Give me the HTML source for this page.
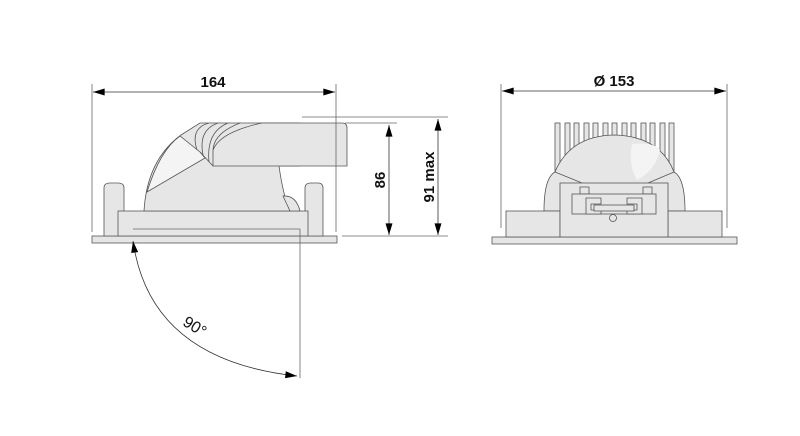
<!DOCTYPE html>
<html><head><meta charset="utf-8"><style>body{margin:0;background:#fff}svg{display:block}</style></head><body>
<svg width="800" height="436" viewBox="0 0 800 436" xmlns="http://www.w3.org/2000/svg" font-family="Liberation Sans, sans-serif">
<defs><marker id="a" viewBox="0 0 10 6" refX="10" refY="3" markerWidth="14" markerHeight="7" markerUnits="userSpaceOnUse" orient="auto-start-reverse"><path d="M0,0L10,3L0,6z" fill="#000"/></marker></defs>
<g fill="#e6e6e6" stroke="#555" stroke-width="0.8">
<!-- left view -->
<rect x="92" y="236" width="245" height="7"/>
<path d="M104,236V188Q104,183 110,183H118Q124,183 124,188V236z"/>
<path d="M305,236V188Q305,183 311,183H318Q323,183 323,188V236z"/>
<rect x="118" y="211" width="190" height="25"/>
<path d="M144,211Q147,160 181,135L200,123H300V166H279Q283,195 290,211z"/>
<path d="M283,196Q296,195 300,211H290z"/>
<path d="M147,192Q160,150 180,136L200,152L205,158z" fill="#f4f4f4"/>
<path d="M213,166V150Q220,132 262,123H342Q347,123 347,128V166z"/>
<path d="M209,123Q190,128 197,150M218,123Q198,130 203,155M228,123Q206,132 209,162M240,123Q214,133 213,150" fill="none"/>
<line x1="200" y1="152" x2="213" y2="166"/>
<!-- right view -->
<rect x="492" y="237" width="245" height="7"/>
<g>
<rect x="555" y="123" width="5" height="50"/><rect x="565" y="123" width="5" height="50"/><rect x="574" y="123" width="5" height="50"/><rect x="584" y="123" width="5" height="50"/><rect x="593" y="123" width="5" height="50"/><rect x="603" y="123" width="5" height="50"/><rect x="612" y="123" width="5" height="50"/><rect x="622" y="123" width="5" height="50"/><rect x="631" y="123" width="5" height="50"/><rect x="641" y="123" width="5" height="50"/><rect x="650" y="123" width="5" height="50"/><rect x="660" y="123" width="5" height="50"/><rect x="669" y="123" width="5" height="50"/>
</g>
<path d="M544,211Q544,178 555,172Q570,136 614,135Q660,136 674,172Q685,178 685,211z"/>
<path d="M555,172L582,183M674,172L648,183" fill="none"/>
<path d="M632,144Q655,142 660,150Q656,170 637,180Q628,165 632,144z" fill="#f4f4f4" stroke="none"/>
<rect x="506" y="211" width="54" height="26"/>
<rect x="668" y="211" width="54" height="26"/>
<rect x="560" y="183" width="108" height="54"/>
<rect x="580" y="187" width="9" height="7"/><rect x="643" y="187" width="9" height="7"/>
<rect x="572" y="194" width="84" height="20"/>
<path d="M586,198H601V204H591V210H601V214H586z M642,198H627V204H637V210H627V214H642z" fill="#e6e6e6"/>
<rect x="594" y="205" width="40" height="6"/>
<circle cx="613" cy="218" r="3.5"/>
</g>
<g stroke="#666" stroke-width="0.8" fill="none">
<line x1="92" y1="84" x2="92" y2="232"/><line x1="336" y1="84" x2="336" y2="232"/>
<line x1="501" y1="84" x2="501" y2="228"/><line x1="727" y1="84" x2="727" y2="228"/>
<line x1="302" y1="117" x2="448" y2="117"/><line x1="345" y1="123" x2="397" y2="123"/>
<line x1="342" y1="236" x2="448" y2="236"/>
<line x1="133" y1="229" x2="300" y2="229"/><line x1="300" y1="229" x2="300" y2="378"/>
</g>
<g stroke="#333" stroke-width="0.8" fill="none">
<line x1="93" y1="92" x2="335" y2="92" marker-start="url(#a)" marker-end="url(#a)"/>
<line x1="502" y1="91" x2="726" y2="91" marker-start="url(#a)" marker-end="url(#a)"/>
<line x1="389" y1="125" x2="389" y2="235" marker-start="url(#a)" marker-end="url(#a)"/>
<line x1="438" y1="119" x2="438" y2="235" marker-start="url(#a)" marker-end="url(#a)"/>
<path d="M133,241Q150,360 297,376" marker-start="url(#a)" marker-end="url(#a)"/>
</g>
<g font-size="15" font-weight="bold" fill="#111">
<text x="213" y="87" text-anchor="middle">164</text>
<text x="614" y="86" text-anchor="middle">Ø 153</text>
<text transform="translate(385,180) rotate(-90)" text-anchor="middle">86</text>
<text transform="translate(434,177) rotate(-90)" text-anchor="middle">91 max</text>
<text transform="translate(192,331) rotate(32)" text-anchor="middle" font-weight="normal" font-size="16">90°</text>
</g>
</svg>
</body></html>
